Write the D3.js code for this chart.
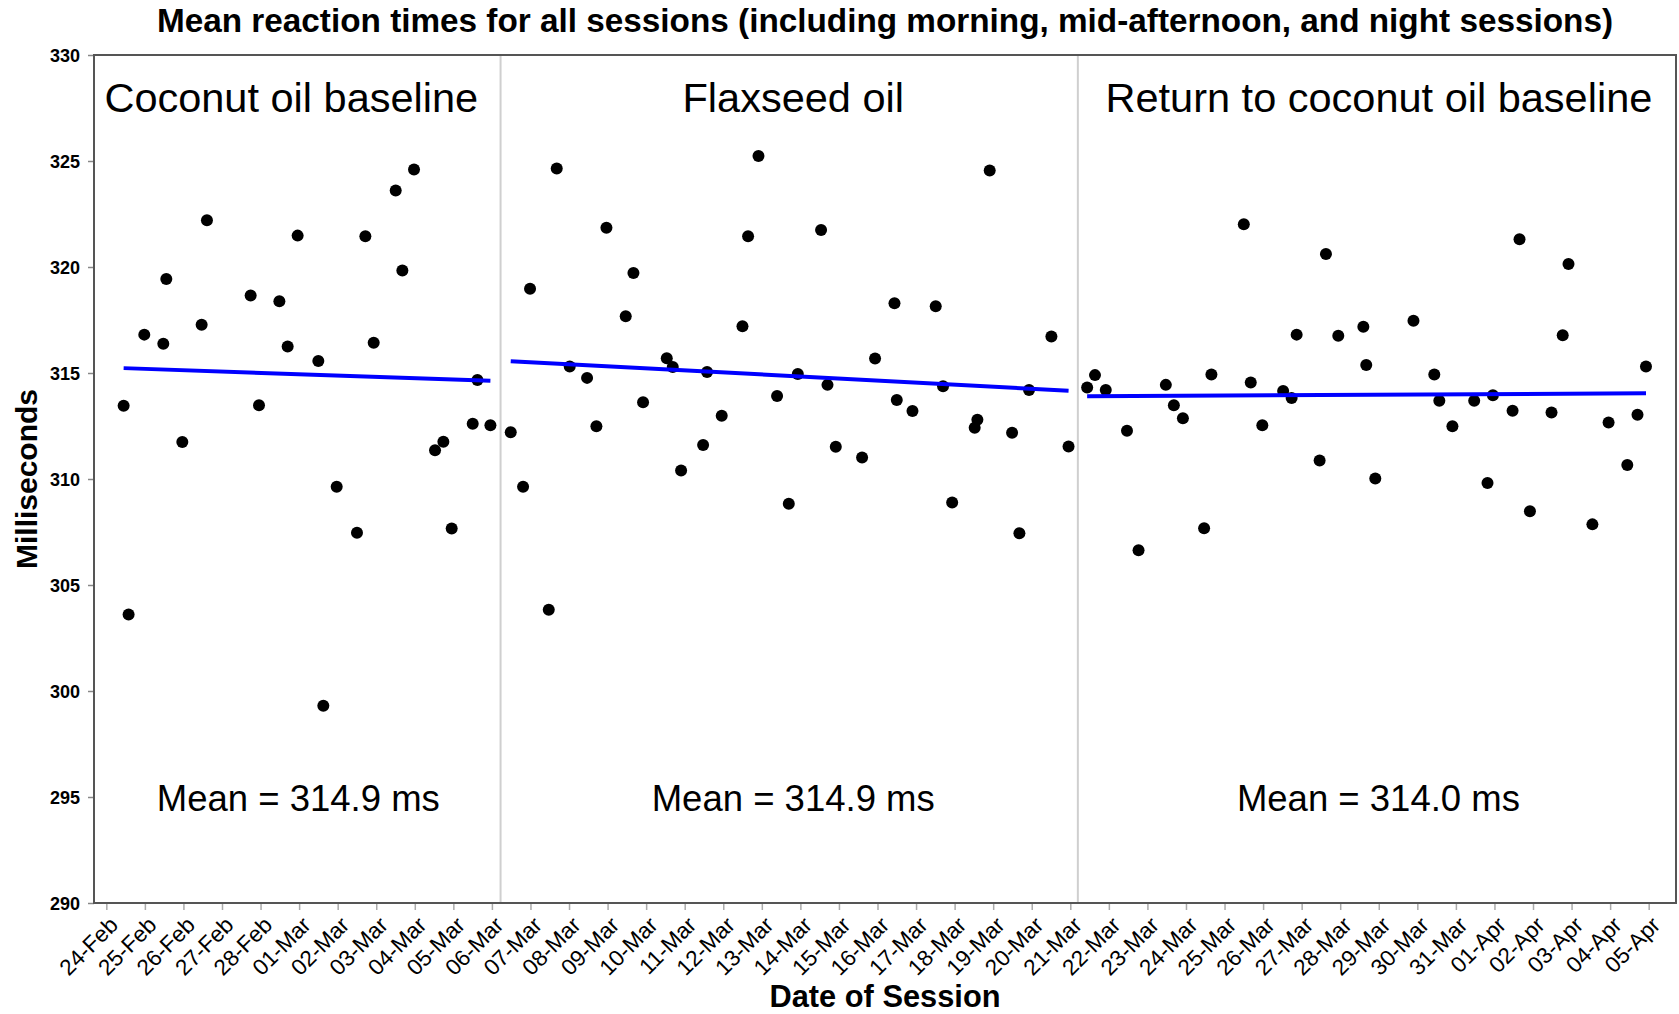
<!DOCTYPE html>
<html>
<head>
<meta charset="utf-8">
<script src="https://cdn.jsdelivr.net/npm/d3@7"></script>
<style>
  body { margin: 0; background: #fff; }
  text { font-family: "Liberation Sans", Arial, sans-serif; fill: #000; }
</style>
</head>
<body>
<div id="chart"></div>
<script>
// session timestamps + mean reaction time (ms), one pair of arrays per phase
var coconutTimes = ["2015-02-24 10:47", "2015-02-24 13:52", "2015-02-24 23:38", "2015-02-25 11:28", "2015-02-25 13:20",
  "2015-02-25 23:18", "2015-02-26 11:20", "2015-02-26 14:38", "2015-02-27 17:50", "2015-02-27 23:02",
  "2015-02-28 11:43", "2015-02-28 16:52", "2015-02-28 23:05", "2015-03-01 11:58", "2015-03-01 15:04",
  "2015-03-01 23:23", "2015-03-02 12:01", "2015-03-02 17:14", "2015-03-02 22:25", "2015-03-03 12:07",
  "2015-03-03 16:16", "2015-03-03 23:31", "2015-03-04 12:36", "2015-03-04 17:47", "2015-03-04 22:58",
  "2015-03-05 12:03", "2015-03-05 14:59", "2015-03-05 23:04"];
var coconutMs = [313.45, 303.61, 316.81, 316.38, 319.43, 311.74, 317.28, 322.20, 318.66, 313.48,
  318.38, 316.25, 321.48, 315.57, 299.30, 309.63, 307.47, 321.45, 316.43, 323.61,
  319.83, 324.60, 311.36, 311.76, 307.67, 312.61, 314.67, 312.54];

var flaxTimes = ["2015-03-06 11:43", "2015-03-06 19:24", "2015-03-06 23:44", "2015-03-07 11:23", "2015-03-07 16:21",
  "2015-03-08 00:26", "2015-03-08 11:14", "2015-03-08 17:02", "2015-03-08 23:17", "2015-03-09 11:17",
  "2015-03-09 16:05", "2015-03-09 22:05", "2015-03-10 12:50", "2015-03-10 16:34", "2015-03-10 21:45",
  "2015-03-11 11:27", "2015-03-11 13:55", "2015-03-11 23:02", "2015-03-12 11:57", "2015-03-12 15:27",
  "2015-03-12 21:55", "2015-03-13 09:30", "2015-03-13 16:47", "2015-03-13 22:24", "2015-03-14 12:53",
  "2015-03-14 16:52", "2015-03-14 22:02", "2015-03-15 14:24", "2015-03-15 22:29", "2015-03-16 10:34",
  "2015-03-16 12:00", "2015-03-16 21:46", "2015-03-17 12:14", "2015-03-17 16:48", "2015-03-17 22:28",
  "2015-03-18 12:29", "2015-03-18 14:10", "2015-03-18 21:50", "2015-03-19 11:46", "2015-03-19 16:19",
  "2015-03-19 22:19", "2015-03-20 12:14", "2015-03-20 22:55"];
var flaxMs = [312.21, 309.63, 318.97, 303.83, 324.65, 315.31, 314.77, 312.49, 321.85, 317.68,
  319.72, 313.62, 315.70, 315.28, 310.40, 311.60, 315.05, 312.98, 317.20, 321.45,
  325.24, 313.92, 308.83, 314.95, 321.74, 314.44, 311.52, 311.01, 315.68, 318.29,
  313.73, 313.21, 318.15, 314.37, 308.89, 312.42, 312.80, 324.55, 312.18, 307.44,
  314.20, 316.72, 311.53];

var returnTimes = ["2015-03-21 10:29", "2015-03-21 15:22", "2015-03-21 22:05", "2015-03-22 11:17", "2015-03-22 18:29",
  "2015-03-23 11:28", "2015-03-23 16:28", "2015-03-23 22:05", "2015-03-24 11:17", "2015-03-24 15:50",
  "2015-03-25 12:00", "2015-03-25 16:19", "2015-03-25 23:31", "2015-03-26 12:29", "2015-03-26 17:46",
  "2015-03-26 20:53", "2015-03-27 11:11", "2015-03-27 15:07", "2015-03-27 22:48", "2015-03-28 14:24",
  "2015-03-28 16:12", "2015-03-28 21:50", "2015-03-29 21:36", "2015-03-30 10:34", "2015-03-30 13:41",
  "2015-03-30 21:50", "2015-03-31 11:24", "2015-03-31 19:41", "2015-03-31 23:02", "2015-04-01 11:17",
  "2015-04-01 15:36", "2015-04-01 22:05", "2015-04-02 11:31", "2015-04-02 18:29", "2015-04-02 22:05",
  "2015-04-03 12:58", "2015-04-03 23:02", "2015-04-04 10:41", "2015-04-04 17:02", "2015-04-04 22:19"];
var returnMs = [314.32, 314.90, 314.20, 312.28, 306.64, 314.44, 313.48, 312.87, 307.68, 314.93,
  322.02, 314.55, 312.53, 314.15, 313.82, 316.81, 310.87, 320.61, 316.76, 317.18,
  315.38, 310.02, 317.46, 314.93, 313.69, 312.49, 313.69, 309.81, 313.95, 313.22,
  321.31, 308.48, 313.14, 316.78, 320.14, 307.86, 312.67, 310.66, 313.03, 315.31];

var phaseNames = ["Coconut oil baseline", "Flaxseed oil", "Return to coconut oil baseline"];
var phaseMeans = [314.9, 314.9, 314.0];
// fitted trend value at first / last session of each phase
var trendStart = [315.23, 315.56, 313.90];
var trendEnd = [314.63, 314.16, 314.04];

var yTicks = [290, 295, 300, 305, 310, 315, 320, 325, 330];
var xLimits = ["2015-02-23 16:20", "2015-04-05 17:00"];
var xFirstTick = "2015-02-24 00:00";
var xLastTick = "2015-04-05 00:00";

// chart setup
var svgWidth = 1679;
var svgHeight = 1014;
var margin = { top: 55, right: 3, bottom: 111, left: 94 };
var width = svgWidth - margin.left - margin.right;
var height = svgHeight - margin.top - margin.bottom;

// small horizontal nudges for the panel captions (name, mean)
var nameShift = [-6, 4, 2];
var meanShift = [1, 4, 1.5];

var parseTime = d3.utcParse("%Y-%m-%d %H:%M");
var fmtDay = d3.utcFormat("%d-%b");

var phases = [
  { times: coconutTimes, ms: coconutMs },
  { times: flaxTimes, ms: flaxMs },
  { times: returnTimes, ms: returnMs }
].map(function(p, i) {
  return {
    name: phaseNames[i],
    mean: phaseMeans[i],
    points: p.times.map(function(t, j) { return { date: parseTime(t), ms: p.ms[j] }; }),
    trend: [trendStart[i], trendEnd[i]]
  };
});

var svg = d3.select("#chart")
  .append("svg")
  .attr("width", svgWidth)
  .attr("height", svgHeight);

var chartGroup = svg.append("g")
  .attr("transform", `translate(${margin.left}, ${margin.top})`);

var xScale = d3.scaleUtc()
  .domain(xLimits.map(parseTime))
  .range([0, width]);

var yScale = d3.scaleLinear()
  .domain([290, 330])
  .range([height, 0]);

// phase boundaries: halfway between the last and first session
var bounds = [xScale.range()[0]];
for (var i = 0; i < phases.length - 1; i++) {
  var a = phases[i].points[phases[i].points.length - 1].date;
  var b = phases[i + 1].points[0].date;
  bounds.push(xScale(new Date((+a + +b) / 2)));
}
bounds.push(xScale.range()[1]);

// separators
chartGroup.selectAll(".sep")
  .data(bounds.slice(1, -1))
  .enter()
  .append("line")
  .attr("x1", d => d).attr("x2", d => d)
  .attr("y1", 0).attr("y2", height)
  .attr("stroke", "#cfcfcf")
  .attr("stroke-width", 2);

// y axis
var leftAxis = d3.axisLeft(yScale)
  .tickValues(yTicks)
  .tickSize(6)
  .tickPadding(8);

var yAxisG = chartGroup.append("g").call(leftAxis);
yAxisG.select(".domain").remove();
yAxisG.selectAll(".tick line").attr("stroke", "#888").attr("stroke-width", 1.5);
yAxisG.selectAll(".tick text")
  .attr("font-size", 18)
  .attr("font-weight", "bold")
  .attr("font-family", "'Liberation Sans', Arial, sans-serif")
  .attr("fill", "#000")
  .attr("dy", "0.36em");

// x axis (one tick per day)
var dayTicks = d3.utcDay.range(parseTime(xFirstTick), d3.utcDay.offset(parseTime(xLastTick), 1));
var bottomAxis = d3.axisBottom(xScale)
  .tickValues(dayTicks)
  .tickFormat(fmtDay)
  .tickSize(7);

var xAxisG = chartGroup.append("g")
  .attr("transform", `translate(0, ${height})`)
  .call(bottomAxis);
xAxisG.select(".domain").remove();
xAxisG.selectAll(".tick line").attr("stroke", "#aaa").attr("stroke-width", 1.5);
xAxisG.selectAll(".tick text")
  .attr("font-size", 22.5)
  .attr("font-family", "'Liberation Sans', Arial, sans-serif")
  .attr("fill", "#000")
  .attr("text-anchor", "end")
  .attr("x", 0)
  .attr("y", 0)
  .attr("dy", "0.72em")
  .attr("transform", "translate(1, 12) rotate(-45)");

// frame
chartGroup.append("rect")
  .attr("x", 0).attr("y", 0)
  .attr("width", width).attr("height", height)
  .attr("fill", "none")
  .attr("stroke", "#555")
  .attr("stroke-width", 2);

// points
var allPoints = phases.reduce((acc, p) => acc.concat(p.points), []);
chartGroup.selectAll("circle")
  .data(allPoints)
  .enter()
  .append("circle")
  .attr("cx", d => xScale(d.date))
  .attr("cy", d => yScale(d.ms))
  .attr("r", 6)
  .attr("fill", "#000");

// trend lines
phases.forEach(function(p) {
  var first = p.points[0].date;
  var last = p.points[p.points.length - 1].date;
  chartGroup.append("line")
    .attr("x1", xScale(first))
    .attr("y1", yScale(p.trend[0]))
    .attr("x2", xScale(last))
    .attr("y2", yScale(p.trend[1]))
    .attr("stroke", "#0000ff")
    .attr("stroke-width", 4);
});

// phase labels and means
phases.forEach(function(p, i) {
  var cx = (bounds[i] + bounds[i + 1]) / 2;
  chartGroup.append("text")
    .attr("x", cx + nameShift[i])
    .attr("y", 112 - margin.top)
    .attr("text-anchor", "middle")
    .attr("font-size", 41.5)
    .text(p.name);
  chartGroup.append("text")
    .attr("x", cx + meanShift[i])
    .attr("y", 811 - margin.top)
    .attr("text-anchor", "middle")
    .attr("font-size", 36.5)
    .text("Mean = " + p.mean.toFixed(1) + " ms");
});

// title
svg.append("text")
  .attr("x", margin.left + width / 2)
  .attr("y", 32)
  .attr("text-anchor", "middle")
  .attr("font-size", 33.3)
  .attr("font-weight", "bold")
  .text("Mean reaction times for all sessions (including morning, mid-afternoon, and night sessions)");

// axis labels
svg.append("text")
  .attr("transform", `translate(37, ${margin.top + height / 2}) rotate(-90)`)
  .attr("text-anchor", "middle")
  .attr("font-size", 30)
  .attr("font-weight", "bold")
  .text("Milliseconds");

svg.append("text")
  .attr("x", margin.left + width / 2)
  .attr("y", 1007)
  .attr("text-anchor", "middle")
  .attr("font-size", 30.8)
  .attr("font-weight", "bold")
  .text("Date of Session");
</script>
</body>
</html>
